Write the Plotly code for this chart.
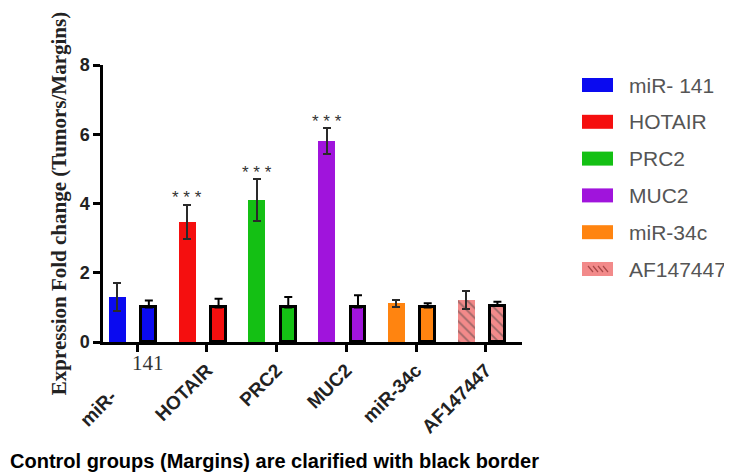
import plotly.graph_objects as go

genes = ["miR- 141", "HOTAIR", "PRC2", "MUC2", "miR-34c", "AF147447"]
tick_labels = ["miR-" + "\u00a0" * 7, "HOTAIR", "PRC2", "MUC2", "miR-34c", "AF147447"]
colors = ["#0a0af0", "#f50f0f", "#14c014", "#a014dc", "#ff8410", "#f28a8a"]
tumor_vals = [1.30, 3.47, 4.10, 5.80, 1.12, 1.21]
tumor_err = [0.40, 0.50, 0.60, 0.37, 0.10, 0.25]
margin_vals = [1.00, 1.00, 1.00, 1.00, 1.00, 1.04]
margin_err = [0.20, 0.25, 0.30, 0.35, 0.12, 0.12]
stars = ["", "* * *", "* * *", "* * *", "", ""]
title_text = "Control groups (Margins) are clarified with black border"
ytitle = "Expression Fold change (Tumors/Margins)"

# the page body adds an 8px offset; reference pixel p -> figure pixel p - OFF
OFF = 8
W, H = 732, 476
L, R, T = 103 - OFF, 210 + OFF, 65 - OFF
B = H - (342 - OFF)
pw, ph = W - L - R, H - T - B


def px(x):
    return (x - OFF - L) / pw


def py(y):
    return (H - B - (y - OFF)) / ph


fig = go.Figure()
idx = list(range(len(genes)))
pat_shapes = ["" if g != "AF147447" else "\\" for g in genes]

fig.add_trace(go.Bar(
    x=idx, y=tumor_vals, width=0.245, offset=-0.405,
    marker=dict(color=colors, line=dict(width=0),
                pattern=dict(shape=pat_shapes, fgcolor="#a84848", size=7, solidity=0.25)),
    error_y=dict(type="data", array=tumor_err, color="#2a2a2a", thickness=2, width=4),
    showlegend=False,
))
fig.add_trace(go.Bar(
    x=idx, y=margin_vals, width=0.215, offset=0.06,
    marker=dict(color=colors, line=dict(width=3, color="black"),
                pattern=dict(shape=pat_shapes, fgcolor="#a84848", size=7, solidity=0.25)),
    error_y=dict(type="data", symmetric=False, array=margin_err, arrayminus=[0]*6,
                 color="black", thickness=2, width=4),
    showlegend=False,
))

annotations = []
for i, s in enumerate(stars):
    if s:
        annotations.append(dict(x=i - 0.405 + 0.1225, y=tumor_vals[i] + tumor_err[i] + 0.2,
                                xref="x", yref="y", text=s, showarrow=False,
                                font=dict(family="Liberation Sans", size=17, color="#333"),
                                yanchor="middle"))
# stray "141" of the first label
annotations.append(dict(x=px(130), y=py(377), xref="paper", yref="paper", text="141",
                        showarrow=False,
                        font=dict(family="Liberation Serif", size=21, color="#333")))

# manual legend
shapes = []
for k, g in enumerate(genes):
    cy = 85 + k * 36.8
    shapes.append(dict(type="rect", xref="paper", yref="paper", x0=px(582), x1=px(613),
                       y0=py(cy + 7), y1=py(cy - 7),
                       fillcolor=colors[k], line=dict(width=0), layer="above"))
    if g == "AF147447":
        for j in range(4):
            sx = 588 + j * 5
            shapes.append(dict(type="line", xref="paper", yref="paper",
                               x0=px(sx), x1=px(sx + 5), y0=py(cy - 3), y1=py(cy + 3),
                               line=dict(color="#a84848", width=1.2), layer="above"))
    annotations.append(dict(x=px(627), y=py(cy), xref="paper", yref="paper",
                            text=g, showarrow=False, xanchor="left", yanchor="middle",
                            font=dict(family="Liberation Sans", size=21, color="#555")))

annotations.append(dict(x=px(8), y=py(461), xref="paper", yref="paper",
                        text="<b>" + title_text + "</b>", showarrow=False,
                        xanchor="left", yanchor="middle",
                        font=dict(family="Liberation Sans", size=20, color="black")))

fig.update_layout(
    width=W, height=H, margin=dict(l=L, r=R, t=T, b=B, autoexpand=False),
    paper_bgcolor="white", plot_bgcolor="white",
    barmode="overlay", bargap=0,
    annotations=annotations, shapes=shapes,
    xaxis=dict(range=[-0.49, 5.52], tickmode="array", tickvals=idx,
               ticktext=["<b>" + t + "</b>" for t in tick_labels],
               tickangle=-45, ticks="outside", ticklen=7, tickwidth=2.5, tickcolor="black",
               showline=True, linecolor="black", linewidth=2.5, showgrid=False, zeroline=False,
               automargin=False,
               tickfont=dict(family="Liberation Sans", size=19, color="#222")),
    yaxis=dict(range=[0, 8], tickvals=[0, 2, 4, 6, 8],
               ticktext=["<b>0</b>", "<b>2</b>", "<b>4</b>", "<b>6</b>", "<b>8</b>"],
               ticks="outside", ticklen=7, tickwidth=2.5,
               tickcolor="black", showline=True, linecolor="black", linewidth=2.5,
               showgrid=False, zeroline=False, automargin=False,
               tickfont=dict(family="Liberation Sans", size=18, color="#222"),
               title=dict(text="<b>" + ytitle + "</b>", standoff=8,
                          font=dict(family="Liberation Serif", size=21, color="#222"))),
)

fig.write_html("out.html")
